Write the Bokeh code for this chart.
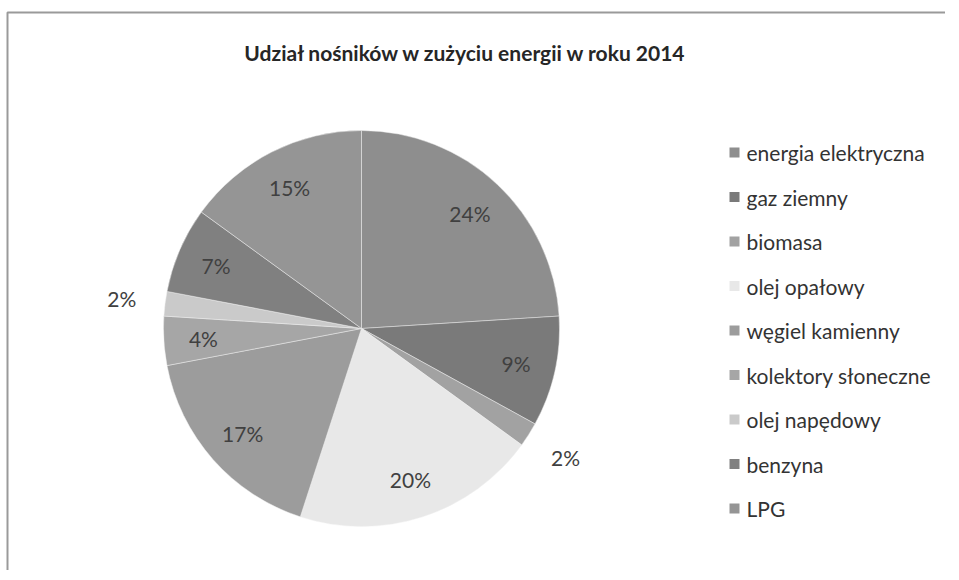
import math
from bokeh.plotting import figure
from bokeh.models import ColumnDataSource, Range1d
from bokeh.core.properties import value
from bokeh.embed import file_html
from bokeh.resources import INLINE

title = "Udział nośników w zużyciu energii  w roku 2014"
categories = ["energia elektryczna", "gaz ziemny", "biomasa", "olej opałowy",
              "węgiel kamienny", "kolektory słoneczne", "olej napędowy", "benzyna", "LPG"]
shares = [24, 9, 2, 20, 17, 4, 2, 7, 15]
colors = ["#8e8e8e", "#7a7a7a", "#a2a2a2", "#e8e8e8", "#9c9c9c",
          "#a6a6a6", "#cacaca", "#808080", "#959595"]

W, H = 945, 570
p = figure(width=W, height=H, output_backend="svg", toolbar_location=None,
           x_range=Range1d(0, W), y_range=Range1d(0, H),
           min_border=0, min_border_left=0, min_border_right=0,
           min_border_top=0, min_border_bottom=0)
p.axis.visible = False
p.grid.visible = False
p.outline_line_color = None
p.background_fill_color = "white"
p.border_fill_color = "white"

# pie geometry (data y = H - screen y)
cx, cy, R = 361, H - 328, 198
total = sum(shares)
starts, ends, lx, ly = [], [], [], []
cum = 0.0
for v in shares:
    f0 = cum / total
    f1 = (cum + v) / total
    starts.append(math.pi / 2 - 2 * math.pi * f0)
    ends.append(math.pi / 2 - 2 * math.pi * f1)
    mid = 2 * math.pi * (f0 + f1) / 2
    rr = 1.22 * R if v < 3 else 0.8 * R
    lx.append(cx + rr * math.sin(mid))
    ly.append(cy + rr * math.cos(mid))
    cum += v

src = ColumnDataSource(dict(start=starts, end=ends, color=colors, cat=categories,
                            lx=lx, ly=ly, lab=[f"{v}%" for v in shares]))
p.wedge(x=cx, y=cy, radius=R, start_angle="start", end_angle="end",
        direction="clock", fill_color="color", line_color="#f0f0f0",
        line_width=0.8, line_alpha=0.6, source=src)

p.text(x="lx", y="ly", text="lab", source=src, text_align="center",
       text_baseline="middle", text_font=value("Lato"), text_font_size="21px",
       text_color="#404040")

# title
p.text(x=[468], y=[H - 52], text=[title], text_align="center", text_baseline="middle",
       text_font=value("Lato"), text_font_size="21px", text_font_style="bold",
       text_color="#262626")

# legend
top_y, step = H - 152, 44.5
leg_y = [top_y - i * step for i in range(len(categories))]
lsrc = ColumnDataSource(dict(y=leg_y, cat=categories, color=colors,
                             x=[734] * len(categories), tx=[746] * len(categories)))
p.scatter(x="x", y="y", marker="square", size=10, fill_color="color",
          line_color=None, source=lsrc)
p.text(x="tx", y="y", text="cat", source=lsrc, text_align="left",
       text_baseline="middle", text_font=value("Lato"), text_font_size="21px",
       text_color="#333333")

# chart border (top and left visible)
p.line(x=[7, 7, W + 10], y=[-10, H - 12, H - 12], line_color="#9a9a9a", line_width=2)

open("out.html", "w").write(file_html(p, INLINE))
